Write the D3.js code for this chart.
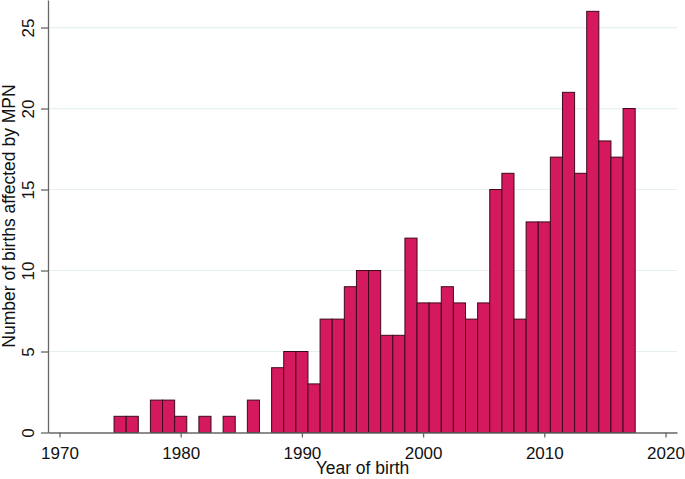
<!DOCTYPE html>
<html>
<head>
<meta charset="utf-8">
<script src="https://cdn.jsdelivr.net/npm/d3@7"></script>
<style>
  body { margin: 0; background: #fff; }
  text { font-family: "Liberation Sans", Arial, sans-serif; fill: #111; }
</style>
</head>
<body>
<script>
// data
const years = [1975, 1976, 1977, 1978, 1979, 1980, 1981, 1982, 1983, 1984, 1985, 1986, 1987,
  1988, 1989, 1990, 1991, 1992, 1993, 1994, 1995, 1996, 1997, 1998, 1999, 2000, 2001, 2002,
  2003, 2004, 2005, 2006, 2007, 2008, 2009, 2010, 2011, 2012, 2013, 2014, 2015, 2016, 2017];
const births = [1, 1, 0, 2, 2, 1, 0, 1, 0, 1, 0, 2, 0,
  4, 5, 5, 3, 7, 7, 9, 10, 10, 6, 6, 12, 8, 8, 9,
  8, 7, 8, 15, 16, 7, 13, 13, 17, 21, 16, 26, 18, 17, 20];
const xTicks = [1970, 1980, 1990, 2000, 2010, 2020];
const yTicks = [0, 5, 10, 15, 20, 25];

const data = years.map((y, i) => ({year: y, n: births[i]}));

const canvWidth = 685, canvHeight = 479;
const svg = d3.select("body").append("svg")
    .attr("width", canvWidth)
    .attr("height", canvHeight);

// plot region edges
const plotLeft = 48, plotRight = 677, plotBottom = 432.5, plotTop = 0;

const xScale = d3.scaleLinear()
    .domain([1969.05, 2020.95])
    .range([plotLeft, plotRight]);

const yScale = d3.scaleLinear()
    .domain([0, 26.7])
    .range([plotBottom, plotTop]);

// gridlines
svg.append("g")
    .selectAll("line")
    .data(yTicks.filter(d => d > 0))
    .join("line")
    .attr("x1", plotLeft)
    .attr("x2", plotRight)
    .attr("y1", d => yScale(d))
    .attr("y2", d => yScale(d))
    .attr("stroke", "#e6eff1")
    .attr("stroke-width", 1.2);

// bars
svg.append("g")
    .selectAll("rect")
    .data(data.filter(d => d.n > 0))
    .join("rect")
    .attr("x", d => xScale(d.year - 0.5))
    .attr("width", d => xScale(d.year + 0.5) - xScale(d.year - 0.5))
    .attr("y", d => yScale(d.n))
    .attr("height", d => yScale(0) - yScale(d.n))
    .attr("fill", "#d5195f")
    .attr("stroke", "#3d0a1c")
    .attr("stroke-width", 1);

// x axis
const xAxis = d3.axisBottom(xScale)
    .tickValues(xTicks)
    .tickFormat(d3.format("d"))
    .tickSize(5)
    .tickSizeOuter(0)
    .tickPadding(9);
const gx = svg.append("g")
    .attr("transform", "translate(0," + plotBottom + ")")
    .call(xAxis);
gx.select(".domain").attr("stroke", "#666").attr("stroke-width", 1.3);
gx.selectAll(".tick line").attr("stroke", "#666").attr("stroke-width", 1.3);
gx.selectAll(".tick text")
    .attr("font-size", "17px")
    .attr("font-family", "Liberation Sans, Arial, sans-serif")
    .attr("fill", "#111");

// y axis
const yAxis = d3.axisLeft(yScale)
    .tickValues(yTicks)
    .tickSize(7)
    .tickSizeOuter(0);
const gy = svg.append("g")
    .attr("transform", "translate(" + plotLeft + ",0)")
    .call(yAxis);
gy.select(".domain").attr("stroke", "#666").attr("stroke-width", 1.3);
gy.selectAll(".tick line").attr("stroke", "#666").attr("stroke-width", 1.3);
gy.selectAll(".tick text")
    .attr("x", null)
    .attr("dy", null)
    .attr("transform", "translate(-14,0) rotate(-90)")
    .attr("text-anchor", "middle")
    .attr("font-size", "17px")
    .attr("font-family", "Liberation Sans, Arial, sans-serif")
    .attr("fill", "#111");

// axis titles
svg.append("text")
    .attr("x", (plotLeft + plotRight) / 2)
    .attr("y", 474)
    .attr("text-anchor", "middle")
    .attr("font-size", "17.5px")
    .text("Year of birth");

svg.append("text")
    .attr("transform", "translate(15," + 216 + ") rotate(-90)")
    .attr("text-anchor", "middle")
    .attr("font-size", "17.5px")
    .text("Number of births affected by MPN");
</script>
</body>
</html>
